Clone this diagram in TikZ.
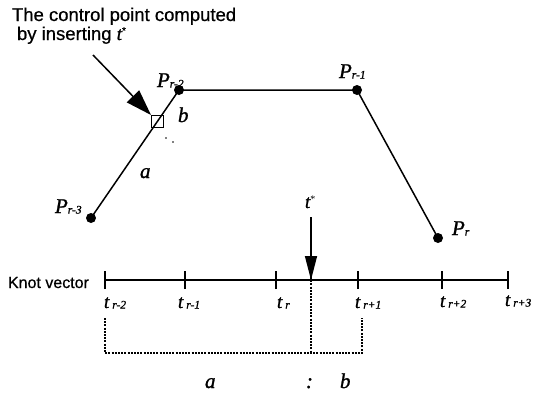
\documentclass[tikz,border=0pt]{standalone}
\usepackage{fontspec}
\setmainfont{Liberation Serif}
\newfontfamily\labfam[FakeBold=1.2]{Liberation Serif}
\newfontfamily\sansfam[FakeBold=0.6]{Liberation Sans}
\usetikzlibrary{arrows.meta}
\newcommand{\subl}[1]{{\labfam\fontsize{11.5}{11.5}\selectfont\itshape\raisebox{-0.5pt}{#1}}}
\newcommand{\bigit}[1]{{\labfam\fontsize{21}{21}\selectfont\itshape #1}}
\newcommand{\midit}[1]{{\labfam\fontsize{19}{19}\selectfont\itshape #1}}
\newcommand{\tstar}{\midit{t}\raisebox{6pt}{\fontsize{10}{10}\selectfont *}}
\begin{document}
\begin{tikzpicture}[x=1pt,y=-1pt,
  every node/.style={inner sep=0pt,outer sep=0pt},
  dotnode/.style={circle,fill=black,inner sep=0pt,minimum size=10pt},
  edge/.style={line width=1.5pt},
  sqbox/.style={draw,line width=1pt,minimum size=12pt},
  tick/.style={line width=1.5pt},
  bracket/.style={line width=1.2pt,dash pattern=on 2pt off 1.2pt},
  sanslbl/.style={font=\sansfam\fontsize{18.5}{18.5}\selectfont},
  lbl/.style={anchor=base west}]
\useasboundingbox (0,0) rectangle (543,394);
% control points
\node[dotnode] (p3) at (91,218) {};
\node[dotnode] (p2) at (179,90) {};
\node[dotnode] (p1) at (357,90) {};
\node[dotnode] (p0) at (438,238) {};
\draw[edge] (p3.center) -- (p2.center) -- (p1.center) -- (p0.center);
\node[sqbox] (sq) at (157,121) {};
\fill (166,138) circle (0.8pt);
\fill (173,142) circle (0.8pt);
% labels of points
\node[lbl] (lp2) at (157,87) {\bigit{P}\subl{r-2}};
\node[lbl] (lp1) at (339,78) {\bigit{P}\subl{r-1}};
\node[lbl] (lp0) at (452,235) {\bigit{P}\subl{r}};
\node[lbl] (lp3) at (55,213) {\bigit{P}\subl{r-3}};
\node[lbl] (la) at (140,178) {\bigit{a}};
\node[lbl] (lb) at (178,122) {\bigit{b}};
% top annotation
\node[lbl,sanslbl] (txt1) at (12,21) {The control point computed};
\node[lbl,sanslbl] (txt2) at (17,40) {by inserting \tstar};
\coordinate (arrstart) at (93,55);
\draw[line width=1.5pt,-{Triangle[length=26pt,width=17pt]}] (arrstart) -- (sq.north west);
% knot vector
\node[lbl,font=\sansfam\fontsize{16}{16}\selectfont] (kv) at (8,288) {Knot vector};
\coordinate (k0) at (105,280);
\coordinate (k1) at (185,280);
\coordinate (k2) at (276,280);
\coordinate (k3) at (358,280);
\coordinate (k4) at (442,280);
\coordinate (k5) at (508,280);
\draw[edge] (k0) -- (k5);
\foreach \k in {k0,k1,k2,k3,k4,k5}{
  \draw[tick] ([yshift=-9pt]\k) -- ([yshift=9pt]\k);
}
\node[lbl] (lk0) at (104,308) {\midit{t}\hspace{3pt}\subl{r-2}};
\node[lbl] (lk1) at (178,308) {\midit{t}\hspace{3pt}\subl{r-1}};
\node[lbl] (lk2) at (277,308) {\midit{t}\hspace{3pt}\subl{r}};
\node[lbl] (lk3) at (355,308) {\midit{t}\hspace{3pt}\subl{r+1}};
\node[lbl] (lk4) at (440,307) {\midit{t}\hspace{3pt}\subl{r+2}};
\node[lbl] (lk5) at (505,306) {\midit{t}\hspace{3pt}\subl{r+3}};
% t* arrow
\node[lbl] (ts) at (305,208) {\tstar};
\coordinate (tk) at (311,280);
\coordinate (tstart) at (311,217);
\draw[line width=1.4pt,-{Triangle[length=24pt,width=12pt]}] (tstart) -- (tk);
% dashed bracket
\coordinate (bl) at (105,318);
\coordinate (br) at (362,318);
\draw[bracket] (bl) -- (bl |- 0,353) -- (br |- 0,353) -- (br);
\draw[bracket] ([yshift=3pt]tk) -- (tk |- 0,353);
% ratio
\node[lbl] (ra) at (205,388) {\bigit{a}};
\node[lbl] (rc) at (306,388) {\bigit{:}};
\node[lbl] (rb) at (340,388) {\bigit{b}};
\end{tikzpicture}
\end{document}
